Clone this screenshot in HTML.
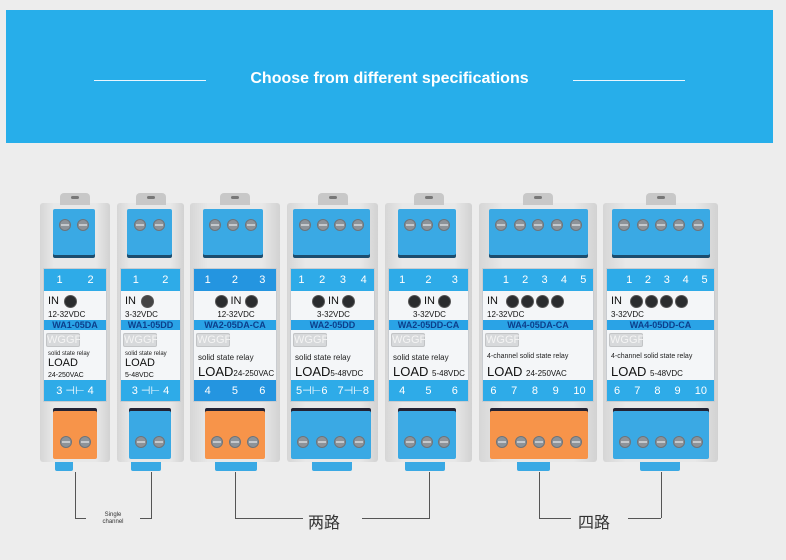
<!DOCTYPE html>
<html><head><meta charset="utf-8"><style>
*{margin:0;padding:0;box-sizing:border-box}
body{width:786px;height:560px;background:#ededed;position:relative;overflow:hidden;font-family:"Liberation Sans","Noto Sans CJK SC",sans-serif}
.banner{position:absolute;left:6px;top:10px;width:767px;height:133px;background:#27aeea}
.banner .t{position:absolute;left:0;right:0;top:60px;text-align:center;color:#fff;font-weight:bold;font-size:16px;letter-spacing:0}
.banner .l{position:absolute;top:70px;height:1px;width:112px;background:#e8f6ff}
.m{position:absolute;top:203px;height:259px;background:linear-gradient(90deg,#d6d6d6,#e8e8e8 20%,#e8e8e8 80%,#d2d2d2);border-radius:3px}
.clip{position:absolute;top:-10px;left:50%;width:30px;margin-left:-15px;height:12px;background:#c8c8c8;border-radius:4px 4px 0 0}
.clip:after{content:"";position:absolute;left:11px;top:3px;width:8px;height:3px;border-radius:2px;background:#777}
.tt,.bt{position:absolute;background:#3aa9e4;display:flex;justify-content:space-around;align-items:center;padding:0 3px;border-radius:2px}
.tt{top:6px;height:46px;box-shadow:0 3px 0 #1c4d6e}
.bt{top:208px;height:48px;box-shadow:0 -3px 0 #223}
.bt.o{background:#f7944a}
.s{width:12px;height:12px;border-radius:50%;background:#8d9399;position:relative;border:1px solid #6e747a}
.s:after{content:"";position:absolute;left:1px;right:1px;top:4px;height:2px;background:#c4c8cc}
.tt .s{margin-top:-14px}.bt .s{margin-top:14px}
.pn{position:absolute;top:65px;height:134px;left:3px;right:3px;background:#f4f6f8;border:1px solid #c9ccd0;overflow:hidden}
.band{position:absolute;left:0;right:0;height:22px;background:#2eabe8;color:#fff;display:flex;justify-content:space-around;align-items:center;font-size:11px}
.band.top{top:0}.band.bot{bottom:0;height:21px}
.in{position:absolute;top:22px;left:4px;right:2px;height:20px;display:flex;align-items:center;gap:3px;font-size:11px;color:#111;justify-content:center}
.d{width:13px;height:13px;border-radius:50%;background:#2a2c2e;border:1px solid #555}
.v{position:absolute;top:41px;left:4px;right:2px;font-size:8px;color:#111;text-align:center}
.strip{position:absolute;top:51px;left:0;right:0;height:10px;background:#2aa3e6;color:#0c3f8c;font-size:9px;font-weight:bold;text-align:center;line-height:10px}
.logo{position:absolute;top:64px;left:2px;width:34px;height:14px;background:#d7d9db;border:1px solid #c2c4c6;border-radius:2px;color:#f4f4f4;font-size:11px;line-height:13px;text-align:center}
.ssr{position:absolute;top:84px;left:4px;right:2px;font-size:7px;color:#222;white-space:nowrap}
.load{position:absolute;top:96px;left:4px;right:2px;font-size:13px;color:#111;white-space:nowrap;line-height:14px}
.load small{font-size:8px}
.foot{position:absolute;top:259px;height:9px;background:#3aa9e4;border-radius:0 0 2px 2px}
.ln{position:absolute;background:#555}
.lab{position:absolute;color:#333}
</style></head><body>
<div class="banner"><div class="l" style="left:88px"></div><div class="t">Choose from different specifications</div><div class="l" style="left:567px"></div></div>

<!-- M1 -->
<div class="m" style="left:40px;width:70px"><div class="clip"></div>
<div class="tt" style="left:13px;width:42px"><div class="s"></div><div class="s"></div></div>
<div class="pn"><div class="band top"><span>1</span><span>2</span></div>
<div class="in" style="justify-content:flex-start;gap:5px">IN<div class="d"></div></div><div class="v" style="text-align:left">12-32VDC</div>
<div class="strip">WA1-05DA</div><div class="logo">WGGF</div>
<div class="ssr" style="top:82px;font-size:6px">solid state relay</div><div class="load" style="top:89px;font-size:11px;line-height:11px">LOAD<br><small style="font-size:7px">24-250VAC</small></div>
<div class="band bot"><span>3 ⊣⊢ 4</span></div></div>
<div class="bt o" style="left:13px;width:44px"><div class="s"></div><div class="s"></div></div>
<div class="foot" style="left:15px;width:18px"></div></div>

<!-- M2 -->
<div class="m" style="left:117px;width:67px"><div class="clip"></div>
<div class="tt" style="left:10px;width:45px"><div class="s"></div><div class="s"></div></div>
<div class="pn"><div class="band top"><span>1</span><span>2</span></div>
<div class="in" style="justify-content:flex-start;gap:5px">IN<div class="d" style="background:#444"></div></div><div class="v" style="text-align:left">3-32VDC</div>
<div class="strip">WA1-05DD</div><div class="logo">WGGF</div>
<div class="ssr" style="top:82px;font-size:6px">solid state relay</div><div class="load" style="top:89px;font-size:11px;line-height:11px">LOAD<br><small style="font-size:7px">5-48VDC</small></div>
<div class="band bot"><span>3 ⊣⊢ 4</span></div></div>
<div class="bt" style="left:12px;width:42px"><div class="s"></div><div class="s"></div></div>
<div class="foot" style="left:14px;width:30px"></div></div>

<!-- M3 -->
<div class="m" style="left:190px;width:90px"><div class="clip"></div>
<div class="tt" style="left:13px;width:60px"><div class="s"></div><div class="s"></div><div class="s"></div></div>
<div class="pn"><div class="band top" style="background:#2495e0"><span>1</span><span>2</span><span>3</span></div>
<div class="in"><div class="d"></div>IN<div class="d"></div></div><div class="v">12-32VDC</div>
<div class="strip">WA2-05DA-CA</div><div class="logo">WGGF</div>
<div class="ssr" style="font-size:8px">solid state relay</div><div class="load">LOAD<small>24-250VAC</small></div>
<div class="band bot" style="background:#2495e0"><span>4</span><span>5</span><span>6</span></div></div>
<div class="bt o" style="left:15px;width:60px"><div class="s"></div><div class="s"></div><div class="s"></div></div>
<div class="foot" style="left:25px;width:42px"></div></div>

<!-- M4 -->
<div class="m" style="left:287px;width:91px"><div class="clip"></div>
<div class="tt" style="left:6px;width:77px"><div class="s"></div><div class="s"></div><div class="s"></div><div class="s"></div></div>
<div class="pn"><div class="band top"><span>1</span><span>2</span><span>3</span><span>4</span></div>
<div class="in"><div class="d"></div>IN<div class="d"></div></div><div class="v">3-32VDC</div>
<div class="strip">WA2-05DD</div><div class="logo">WGGF</div>
<div class="ssr" style="font-size:8px">solid state relay</div><div class="load">LOAD<small>5-48VDC</small></div>
<div class="band bot"><span>5⊣⊢6</span><span>7⊣⊢8</span></div></div>
<div class="bt" style="left:4px;width:80px"><div class="s"></div><div class="s"></div><div class="s"></div><div class="s"></div></div>
<div class="foot" style="left:25px;width:40px"></div></div>

<!-- M5 -->
<div class="m" style="left:385px;width:87px"><div class="clip"></div>
<div class="tt" style="left:13px;width:58px"><div class="s"></div><div class="s"></div><div class="s"></div></div>
<div class="pn"><div class="band top"><span>1</span><span>2</span><span>3</span></div>
<div class="in"><div class="d"></div>IN<div class="d"></div></div><div class="v">3-32VDC</div>
<div class="strip">WA2-05DD-CA</div><div class="logo">WGGF</div>
<div class="ssr" style="font-size:8px">solid state relay</div><div class="load">LOAD <small>5-48VDC</small></div>
<div class="band bot"><span>4</span><span>5</span><span>6</span></div></div>
<div class="bt" style="left:13px;width:58px"><div class="s"></div><div class="s"></div><div class="s"></div></div>
<div class="foot" style="left:20px;width:40px"></div></div>

<!-- M6 -->
<div class="m" style="left:479px;width:118px"><div class="clip"></div>
<div class="tt" style="left:10px;width:99px"><div class="s"></div><div class="s"></div><div class="s"></div><div class="s"></div><div class="s"></div></div>
<div class="pn"><div class="band top"><span></span><span>1</span><span>2</span><span>3</span><span>4</span><span>5</span></div>
<div class="in" style="justify-content:flex-start;gap:2px">IN&nbsp;&nbsp;<div class="d"></div><div class="d"></div><div class="d"></div><div class="d"></div></div><div class="v" style="text-align:left">12-32VDC</div>
<div class="strip">WA4-05DA-CA</div><div class="logo">WGGF</div>
<div class="ssr">4-channel solid state relay</div><div class="load">LOAD <small>24-250VAC</small></div>
<div class="band bot"><span>6</span><span>7</span><span>8</span><span>9</span><span>10</span></div></div>
<div class="bt o" style="left:11px;width:98px"><div class="s"></div><div class="s"></div><div class="s"></div><div class="s"></div><div class="s"></div></div>
<div class="foot" style="left:38px;width:33px"></div></div>

<!-- M7 -->
<div class="m" style="left:603px;width:115px"><div class="clip"></div>
<div class="tt" style="left:9px;width:98px"><div class="s"></div><div class="s"></div><div class="s"></div><div class="s"></div><div class="s"></div></div>
<div class="pn"><div class="band top"><span></span><span>1</span><span>2</span><span>3</span><span>4</span><span>5</span></div>
<div class="in" style="justify-content:flex-start;gap:2px">IN&nbsp;&nbsp;<div class="d"></div><div class="d"></div><div class="d"></div><div class="d"></div></div><div class="v" style="text-align:left">3-32VDC</div>
<div class="strip">WA4-05DD-CA</div><div class="logo">WGGF</div>
<div class="ssr">4-channel solid state relay</div><div class="load">LOAD <small>5-48VDC</small></div>
<div class="band bot"><span>6</span><span>7</span><span>8</span><span>9</span><span>10</span></div></div>
<div class="bt" style="left:10px;width:96px"><div class="s"></div><div class="s"></div><div class="s"></div><div class="s"></div><div class="s"></div></div>
<div class="foot" style="left:37px;width:40px"></div></div>

<!-- brackets -->
<div class="ln" style="left:75px;top:472px;width:1px;height:46px"></div>
<div class="ln" style="left:75px;top:518px;width:11px;height:1px"></div>
<div class="ln" style="left:140px;top:518px;width:12px;height:1px"></div>
<div class="ln" style="left:151px;top:472px;width:1px;height:46px"></div>
<div class="lab" style="left:90px;top:512px;width:46px;text-align:center;font-size:6px;line-height:7px">Single<br>channel</div>

<div class="ln" style="left:235px;top:472px;width:1px;height:46px"></div>
<div class="ln" style="left:235px;top:518px;width:68px;height:1px"></div>
<div class="ln" style="left:362px;top:518px;width:68px;height:1px"></div>
<div class="ln" style="left:429px;top:472px;width:1px;height:46px"></div>
<div class="lab" style="left:308px;top:509px;font-size:16px">两路</div>

<div class="ln" style="left:539px;top:472px;width:1px;height:46px"></div>
<div class="ln" style="left:539px;top:518px;width:32px;height:1px"></div>
<div class="ln" style="left:628px;top:518px;width:33px;height:1px"></div>
<div class="ln" style="left:661px;top:472px;width:1px;height:46px"></div>
<div class="lab" style="left:578px;top:509px;font-size:16px">四路</div>
</body></html>
